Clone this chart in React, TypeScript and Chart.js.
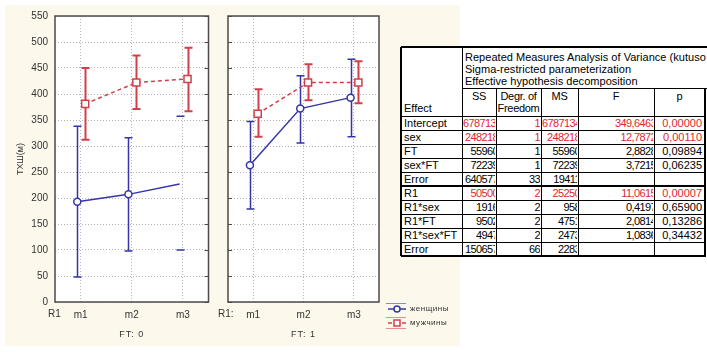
import React, { useEffect, useRef } from "react";
import { Chart, registerables } from "chart.js";

Chart.register(...registerables);
Chart.defaults.font.family = "Arial, 'Liberation Sans', sans-serif";

// ---------- chart data ----------
const categories = ["m1", "m2", "m3"];
const yTicks = [0, 50, 100, 150, 200, 250, 300, 350, 400, 450, 500, 550];

// FT: 0
const womenFT0 = [193, 207, 227];
const womenFT0Lo = [48, 98, 100];
const womenFT0Hi = [338, 316, 357];
const menFT0 = [381, 422, 429];
const menFT0Lo = [312, 371, 367];
const menFT0Hi = [450, 474, 489];

// FT: 1
const womenFT1 = [263, 372, 393];
const womenFT1Lo = [179, 306, 318];
const womenFT1Hi = [347, 435, 467];
const menFT1 = [362, 422, 422];
const menFT1Lo = [318, 388, 382];
const menFT1Hi = [409, 457, 463];

const legendLabels = ["женщины", "мужчины"];
const panelLabels = ["FT: 0", "FT: 1"];
const factorLabels = ["R1", "R1:"];
const yTitle = "ТХШ(м)";

// ---------- table data ----------
const tableTitle = [
  "Repeated Measures Analysis of Variance (kutuso",
  "Sigma-restricted parameterization",
  "Effective hypothesis decomposition",
];
const effectHeader = "Effect";
const columnHeaders = ["SS", "Degr. of\nFreedom", "MS", "F", "p"];
const effects = ["Intercept", "sex", "FT", "sex*FT", "Error", "R1", "R1*sex", "R1*FT", "R1*sex*FT", "Error"];
const ssCol = ["6787134", "248218", "55960", "72239", "640577", "50500", "1916", "9502", "4947", "150657"];
const dfCol = ["1", "1", "1", "1", "33", "2", "2", "2", "2", "66"];
const msCol = ["6787134", "248218", "55960", "72239", "19411", "25250", "958", "4751", "2473", "2283"];
const fCol = ["349,6463", "12,7872", "2,8828", "3,7215", "", "11,0615", "0,4197", "2,0814", "1,0836", ""];
const pCol = ["0,00000", "0,00110", "0,09894", "0,06235", "", "0,00007", "0,65900", "0,13286", "0,34432", ""];
const significantRows = [0, 1, 5];

const CREAM = "#fcf8ec";
const BLUE = "#3535a8";
const RED = "#d0404a";

const panelPlugin: any = {
  id: "panel",
  beforeDraw(chart: any) {
    const { ctx, chartArea: a } = chart;
    ctx.save();
    ctx.fillStyle = "#ffffff";
    ctx.fillRect(a.left, a.top, a.right - a.left, a.bottom - a.top);
    ctx.restore();
  },
  beforeDatasetsDraw(chart: any) {
    const { ctx, scales } = chart;
    chart.data.datasets.forEach((ds: any) => {
      ctx.save();
      ctx.strokeStyle = ds.errColor;
      ctx.lineWidth = ds.errWidth;
      ds.data.forEach((p: any, i: number) => {
        const x = Math.round(scales.x.getPixelForValue(p.x)) + 0.5;
        const yLo = scales.y.getPixelForValue(ds.lo[i]);
        const yHi = scales.y.getPixelForValue(ds.hi[i]);
        ctx.beginPath();
        if (ds.stem[i]) {
          ctx.moveTo(x, yLo);
          ctx.lineTo(x, yHi);
        }
        ctx.moveTo(x - 4, yLo);
        ctx.lineTo(x + 4, yLo);
        ctx.moveTo(x - 4, yHi);
        ctx.lineTo(x + 4, yHi);
        ctx.stroke();
      });
      ctx.restore();
    });
  },
  afterDraw(chart: any, _args: any, o: any) {
    const { ctx, chartArea: a, scales } = chart;
    ctx.save();
    // frame
    ctx.strokeStyle = "#4a4a4a";
    ctx.lineWidth = 1.5;
    ctx.strokeRect(a.left, a.top, a.right - a.left, a.bottom - a.top);
    // inner ticks
    ctx.lineWidth = 1;
    const tx = o.tickSide === "right" ? a.right : a.left;
    const dir = o.tickSide === "right" ? -1 : 1;
    yTicks.forEach((v) => {
      const y = Math.round(scales.y.getPixelForValue(v)) + 0.5;
      ctx.beginPath();
      ctx.moveTo(tx, y);
      ctx.lineTo(tx + dir * 4, y);
      ctx.stroke();
    });
    // factor label and panel label
    ctx.fillStyle = "#333";
    ctx.font = "10px Arial";
    ctx.textBaseline = "middle";
    ctx.textAlign = "left";
    ctx.fillText(o.factor, a.left + o.factorDx, a.bottom + 12);
    ctx.font = "9px Arial";
    ctx.textAlign = "center";
    (ctx as any).letterSpacing = "1px";
    ctx.fillText(o.ft, (a.left + a.right) / 2, a.bottom + 33);
    (ctx as any).letterSpacing = "0px";
    // y title
    if (o.yTitle) {
      ctx.save();
      ctx.translate(a.left - 34, (a.top + a.bottom) / 2);
      ctx.rotate(-Math.PI / 2);
      ctx.font = "9px Arial";
      ctx.textAlign = "center";
      ctx.fillText(o.yTitle, 0, 0);
      ctx.restore();
    }
    // legend
    if (o.legend) {
      const x0 = a.right + 9;
      const x1 = a.right + 27;
      const xm = a.right + 18;
      const yW = a.bottom + 7;
      const yM = a.bottom + 21;
      ctx.lineWidth = 1;
      ctx.strokeStyle = "#8a8ad0";
      ctx.beginPath();
      ctx.moveTo(x0 - 2, yW - 5.5);
      ctx.lineTo(x1, yW - 5.5);
      ctx.stroke();
      ctx.strokeStyle = "#e09090";
      ctx.beginPath();
      ctx.moveTo(x0 - 2, yM - 5.5);
      ctx.lineTo(x1, yM - 5.5);
      ctx.moveTo(x0 - 2, yM + 5.5);
      ctx.lineTo(x1, yM + 5.5);
      ctx.stroke();
      // women
      ctx.strokeStyle = BLUE;
      ctx.lineWidth = 1.5;
      ctx.beginPath();
      ctx.moveTo(x0, yW);
      ctx.lineTo(x1, yW);
      ctx.stroke();
      ctx.fillStyle = "#fff";
      ctx.beginPath();
      ctx.arc(xm, yW, 3, 0, Math.PI * 2);
      ctx.fill();
      ctx.stroke();
      // men
      ctx.strokeStyle = RED;
      ctx.setLineDash([4, 3]);
      ctx.beginPath();
      ctx.moveTo(x0, yM);
      ctx.lineTo(x1, yM);
      ctx.stroke();
      ctx.setLineDash([]);
      ctx.fillStyle = "#fff";
      ctx.fillRect(xm - 3, yM - 3, 6, 6);
      ctx.strokeRect(xm - 3, yM - 3, 6, 6);
      ctx.fillStyle = "#333";
      ctx.font = "8px Arial";
      ctx.textAlign = "left";
      (ctx as any).letterSpacing = "0.5px";
      ctx.fillText(legendLabels[0], x1 + 4, yW);
      ctx.fillText(legendLabels[1], x1 + 4, yM);
    }
    ctx.restore();
  },
};

function buildConfig(panel: number): any {
  const women = panel === 0 ? womenFT0 : womenFT1;
  const womenLo = panel === 0 ? womenFT0Lo : womenFT1Lo;
  const womenHi = panel === 0 ? womenFT0Hi : womenFT1Hi;
  const men = panel === 0 ? menFT0 : menFT1;
  const menLo = panel === 0 ? menFT0Lo : menFT1Lo;
  const menHi = panel === 0 ? menFT0Hi : menFT1Hi;
  const mk = (vals: number[], off: number) => vals.map((v, i) => ({ x: i + 1 + off, y: v }));
  const grid = { color: "#b4b4b4", lineWidth: 1, drawTicks: false };
  const border = { display: false, dash: [1, 2] };
  return {
    type: "line",
    data: {
      datasets: [
        {
          label: legendLabels[0],
          data: mk(women, -0.065),
          lo: womenLo,
          hi: womenHi,
          stem: panel === 0 ? [true, true, false] : [true, true, true],
          errColor: BLUE,
          errWidth: 1.5,
          borderColor: BLUE,
          borderWidth: 1.5,
          pointStyle: "circle",
          pointRadius: panel === 0 ? [3.5, 3.5, 0] : 3.5,
          pointBackgroundColor: "#fff",
          pointBorderColor: BLUE,
          pointBorderWidth: 1.5,
          tension: 0,
          fill: false,
        },
        {
          label: legendLabels[1],
          data: mk(men, 0.09),
          lo: menLo,
          hi: menHi,
          stem: [true, true, true],
          errColor: RED,
          errWidth: 2,
          borderColor: RED,
          borderWidth: 1.5,
          borderDash: [4, 3],
          pointStyle: "rect",
          pointRadius: 5,
          pointBackgroundColor: "#fff",
          pointBorderColor: RED,
          pointBorderWidth: 1.5,
          tension: 0,
          fill: false,
        },
      ],
    },
    options: {
      animation: false,
      responsive: false,
      maintainAspectRatio: false,
      events: [],
      layout: { padding: { left: 0, right: panel === 0 ? 5 : 91, top: 16, bottom: 0 } },
      plugins: {
        legend: { display: false },
        tooltip: { enabled: false },
        panel: {
          factor: factorLabels[panel],
          factorDx: panel === 0 ? -7 : -10,
          ft: panelLabels[panel],
          yTitle: panel === 0 ? yTitle : null,
          legend: panel === 1,
          tickSide: panel === 0 ? "right" : "left",
        },
      },
      scales: {
        x: {
          type: "linear",
          min: 0.5,
          max: 3.5,
          afterBuildTicks: (s: any) => {
            s.ticks = categories.map((_, i) => ({ value: i + 1 }));
          },
          afterFit: (s: any) => {
            s.height = 43;
          },
          ticks: {
            callback: (v: any) => categories[Math.round(v) - 1] ?? "",
            font: { size: 10 },
            color: "#333",
            padding: 7,
            autoSkip: false,
            maxRotation: 0,
          },
          grid,
          border,
        },
        y: {
          type: "linear",
          min: 0,
          max: 550,
          afterBuildTicks: (s: any) => {
            s.ticks = yTicks.map((v) => ({ value: v }));
          },
          afterFit: (s: any) => {
            s.width = panel === 0 ? 55 : 13;
          },
          ticks: { display: panel === 0, font: { size: 10 }, color: "#333", padding: 7 },
          grid,
          border,
        },
      },
    },
    plugins: [panelPlugin],
  };
}

function Table() {
  const X = [401, 462, 496, 541, 578, 654, 705];
  const TOP = 47;
  const TB = 88;
  const HB = 116;
  const RH = 14;
  const bottom = HB + RH * effects.length;
  const cols = [ssCol, dfCol, msCol, fCol, pCol];
  const overhang = [-3, 0, -3, -3, 2];
  const els: any[] = [];
  const hl = (k: string, x1: number, x2: number, y: number, w = 1) =>
    els.push(<div key={k} style={{ position: "absolute", left: x1, top: y - Math.floor(w / 2), width: x2 - x1, height: w, background: "#000" }} />);
  const vl = (k: string, x: number, y1: number, y2: number, w = 1) =>
    els.push(<div key={k} style={{ position: "absolute", left: x - Math.floor(w / 2), top: y1, width: w, height: y2 - y1, background: "#000" }} />);

  els.push(<div key="bg" style={{ position: "absolute", left: X[0], top: TOP, width: 707 - X[0], height: bottom - TOP, background: "#fff" }} />);
  tableTitle.forEach((t, i) =>
    els.push(
      <div key={"t" + i} style={{ position: "absolute", left: X[1] + 3, top: TOP + 4 + i * 12, height: 12, lineHeight: "12px", whiteSpace: "nowrap", letterSpacing: "0.03px" }}>
        {t}
      </div>
    )
  );
  els.push(
    <div key="eff" style={{ position: "absolute", left: X[0] + 3, top: HB - 14, lineHeight: "12px" }}>
      {effectHeader}
    </div>
  );
  columnHeaders.forEach((h, j) =>
    els.push(
      <div key={"h" + j} style={{ position: "absolute", left: X[j + 1], top: TB + 2, width: X[j + 2] - X[j + 1], textAlign: "center", lineHeight: "12px", whiteSpace: "pre", letterSpacing: "-0.3px" }}>
        {h}
      </div>
    )
  );
  effects.forEach((e, r) => {
    const y = HB + r * RH;
    const red = significantRows.includes(r);
    els.push(
      <div key={"e" + r} style={{ position: "absolute", left: X[0] + 3, top: y, height: RH, lineHeight: RH + "px", whiteSpace: "nowrap" }}>
        {e}
      </div>
    );
    cols.forEach((c, j) => {
      const clip = j !== 4;
      els.push(
        <div
          key={"c" + r + "_" + j}
          style={{
            position: "absolute",
            left: X[j + 1] + 1,
            top: y,
            width: X[j + 2] - X[j + 1] - 2,
            height: RH,
            overflow: "hidden",
            display: "flex",
            justifyContent: "safe flex-end",
            alignItems: "center",
          }}
        >
          <span
            style={{
              flex: "none",
              marginRight: overhang[j],
              lineHeight: RH + "px",
              whiteSpace: "nowrap",
              letterSpacing: clip ? "-0.6px" : "0px",
              color: red ? "#e0262e" : "#000",
            }}
          >
            {c[r]}
          </span>
        </div>
      );
    });
  });
  // grid lines
  hl("top", X[0], 707, TOP, 2);
  hl("tb", X[1], 707, TB);
  for (let r = 0; r <= effects.length; r++) {
    const y = HB + r * RH;
    if (r === effects.length) hl("hb" + r, X[0], X[6] + 1, y, 2);
    else if (r === 5) hl("hr" + r, X[0], X[6], y, 2);
    else hl("hr" + r, X[0], X[6], y);
  }
  vl("left", X[0], TOP, bottom, 2);
  vl("v1", X[1], TOP, bottom);
  for (let j = 2; j <= 5; j++) vl("v" + j, X[j], TB, bottom);
  vl("right", X[6], TB, bottom, 2);

  return (
    <div style={{ position: "absolute", left: 0, top: 0, fontFamily: "Arial, 'Liberation Sans', sans-serif", fontSize: 11, color: "#000" }}>
      {els}
    </div>
  );
}

export default function App() {
  const c1 = useRef<HTMLCanvasElement>(null);
  const c2 = useRef<HTMLCanvasElement>(null);
  useEffect(() => {
    const ch1 = new Chart(c1.current as HTMLCanvasElement, buildConfig(0));
    const ch2 = new Chart(c2.current as HTMLCanvasElement, buildConfig(1));
    return () => {
      ch1.destroy();
      ch2.destroy();
    };
  }, []);
  return (
    <div style={{ position: "fixed", left: 0, top: 0, width: 707, height: 361, background: "#fff", overflow: "hidden" }}>
      <div style={{ position: "absolute", left: 5, top: 5, width: 455, height: 341, background: CREAM }} />
      <canvas ref={c1} width={215} height={345} style={{ position: "absolute", left: 0, top: 0, width: 215, height: 345 }} />
      <canvas ref={c2} width={255} height={345} style={{ position: "absolute", left: 215, top: 0, width: 255, height: 345 }} />
      <Table />
    </div>
  );
}
